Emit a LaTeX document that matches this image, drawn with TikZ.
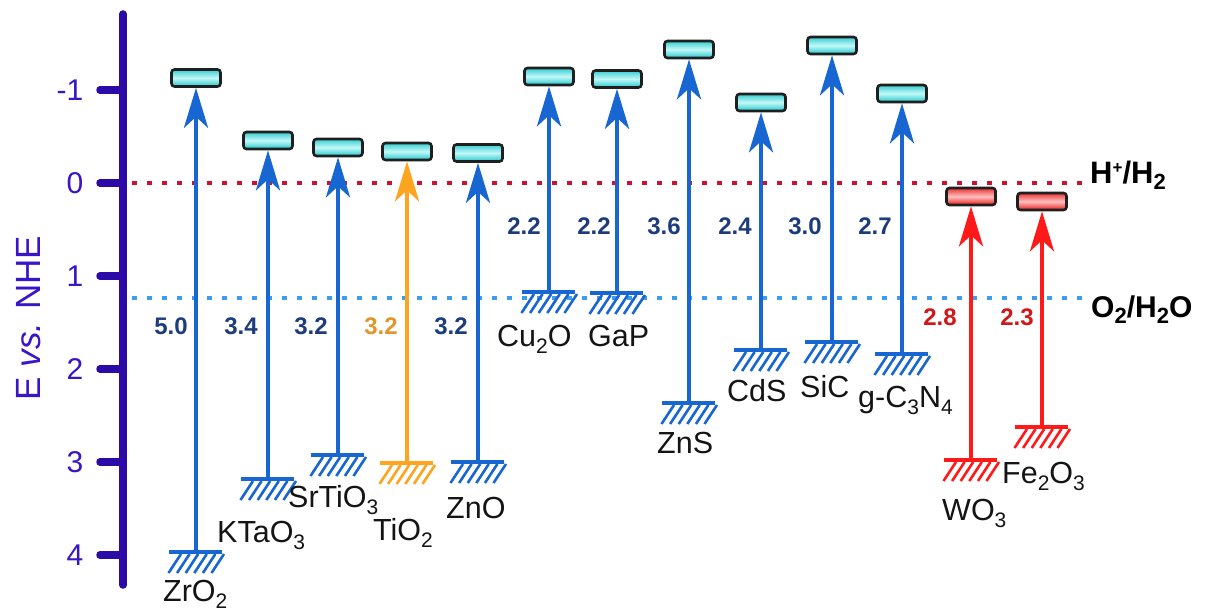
\documentclass[tikz,border=0pt]{standalone}
\usepackage{fontspec}
\setmainfont{Liberation Sans}
\usetikzlibrary{arrows.meta,calc}
\definecolor{axiscol}{HTML}{2C0AA8}
\definecolor{ticktext}{HTML}{3A14C8}
\definecolor{barblue}{HTML}{1766D2}
\definecolor{barorange}{HTML}{FFA41F}
\definecolor{barred}{HTML}{FF1A1A}
\definecolor{gapblue}{HTML}{1C3C7C}
\definecolor{gapred}{HTML}{D01818}
\definecolor{gaporange}{HTML}{E0962A}
\definecolor{hdot}{HTML}{CC1133}
\definecolor{odot}{HTML}{3C9CF0}
\definecolor{cyedge}{HTML}{1EC8CC}
\definecolor{cymid}{HTML}{C4F8F8}
\definecolor{rdedge}{HTML}{E81C1C}
\definecolor{rdmid}{HTML}{FFC0C0}
\newcommand\sub[1]{\raisebox{-7pt}{\fontsize{21}{21}\selectfont #1}}
\newcommand\subb[1]{\raisebox{-6pt}{\fontsize{22}{22}\selectfont\bfseries #1}}
\tikzset{
  matlabel/.style={font=\fontsize{30.5}{32}\selectfont, text=black!92, inner sep=0pt, anchor=base west},
  ticklabel/.style={font=\fontsize{30}{30}\selectfont, text=ticktext, inner sep=0pt, anchor=east},
  gaplabel/.style={font=\fontsize{24}{24}\selectfont\bfseries, inner sep=0pt},
  cbbox/.style={draw=black!88, line width=2.6pt, rounded corners=3pt, minimum width=49pt, minimum height=17pt, inner sep=0pt},
  cbcyan/.style={cbbox, top color=cyedge!90, bottom color=cyedge, middle color=cymid},
  cbred/.style={cbbox, top color=rdedge!90, bottom color=rdedge, middle color=rdmid},
  bandarrow/.style={line width=4.5pt, -{Stealth[length=40pt,width=24pt,inset=11pt]}},
  hatchbar/.style={line width=4pt},
  hatchslash/.style={line width=2.6pt},
  refline/.style={line width=4.5pt, dash pattern=on 4.5pt off 10.5pt},
  axisline/.style={axiscol, line width=7.5pt, line cap=round},
}
% #1 id, #2 x, #3 CB box y, #4 VB y, #5 colour, #6 box style, #7 text, #8 label x, #9 label baseline y
\newcommand\semic[9]{%
  \node[#6] (#1cb) at (#2,#3) {};
  \coordinate (#1vb) at (#2,#4);
  \draw[hatchbar,#5] ($(#1vb)+(-27,0)$) coordinate (#1hl) -- ($(#1vb)+(26,0)$) coordinate (#1hr);
  \foreach \i in {0,...,5}{\draw[hatchslash,#5] ($(#1vb)+(-27.5+8.6*\i,21)$) -- ++(12.5,-19);}
  \draw[bandarrow,#5] (#1vb) -- (#1cb.south);
  \node[matlabel] (#1lbl) at (#8,#9) {#7};
}
\begin{document}
\begin{tikzpicture}[x=1pt,y=-1pt]
\useasboundingbox (0,0) rectangle (1205,612);
% axis
\coordinate (axtop) at (123,14);
\coordinate (axbot) at (123,585);
\draw[axisline] (axtop) -- (axbot);
\foreach \v/\yy/\nm in {-1/90/m1,0/183/z0,1/276/p1,2/369/p2,3/462/p3,4/555/p4}{
  \coordinate (tk\nm) at (123,\yy);
  \draw[axisline] (tk\nm) -- ++(-23,0) coordinate (tke\nm);
  \node[ticklabel] (tl\nm) at (83.5,\yy) {\v};
}
\node[rotate=90, anchor=base, font=\fontsize{35}{35}\selectfont, text=ticktext, inner sep=0pt] (ylab) at (40,318) {E \textit{vs.} NHE};
% reference levels
\coordinate (hs) at (132,183); \coordinate (he) at (1086,183);
\coordinate (os) at (132,298); \coordinate (oe) at (1086,298);
\draw[refline, hdot] (hs) -- (he);
\draw[refline, odot] (os) -- (oe);
\node[anchor=base west, inner sep=0pt, font=\fontsize{31}{31}\selectfont\bfseries] (hlab) at (1090,184) {H\raisebox{10pt}{\fontsize{17}{17}\selectfont\bfseries +}/H\subb{2}};
\node[anchor=base west, inner sep=0pt, font=\fontsize{30}{30}\selectfont\bfseries] (olab) at (1091,318) {O\subb{2}/H\subb{2}O};
% semiconductors
\semic{zro}{196}{78}{552}{barblue}{cbcyan}{ZrO\sub{2}}{163}{601}
\semic{kta}{268}{140.5}{479}{barblue}{cbcyan}{KTaO\sub{3}}{217}{542}
\semic{sto}{338}{147.5}{455}{barblue}{cbcyan}{SrTiO\sub{3}}{288}{507}
\semic{tio}{407}{151.5}{463}{barorange}{cbcyan}{TiO\sub{2}}{373}{540}
\semic{zno}{478}{153}{462}{barblue}{cbcyan}{ZnO}{446}{518}
\semic{cuo}{549}{76.5}{292}{barblue}{cbcyan}{Cu\sub{2}O}{497}{347}
\semic{gap}{617}{79}{293}{barblue}{cbcyan}{GaP}{588}{347}
\semic{zns}{689}{49.5}{403}{barblue}{cbcyan}{ZnS}{657}{453}
\semic{cds}{761}{102.5}{350}{barblue}{cbcyan}{CdS}{727}{401}
\semic{sic}{832}{45.5}{342}{barblue}{cbcyan}{SiC}{800}{397}
\semic{gcn}{902}{93.5}{354}{barblue}{cbcyan}{g-C\sub{3}N\sub{4}}{858}{407}
\semic{wo}{971}{196.5}{460}{barred}{cbred}{WO\sub{3}}{942}{520}
\semic{feo}{1042}{201.5}{427}{barred}{cbred}{Fe\sub{2}O\sub{3}}{1002}{483}
% band gaps
\node[gaplabel, text=gapblue] (gzro) at (171,326) {5.0};
\node[gaplabel, text=gapblue] (gkta) at (241,326) {3.4};
\node[gaplabel, text=gapblue] (gsto) at (311,326) {3.2};
\node[gaplabel, text=gaporange] (gtio) at (381,326) {3.2};
\node[gaplabel, text=gapblue] (gzno) at (451,326) {3.2};
\node[gaplabel, text=gapblue] (gcuo) at (524,226) {2.2};
\node[gaplabel, text=gapblue] (ggap) at (594,226) {2.2};
\node[gaplabel, text=gapblue] (gzns) at (664,226) {3.6};
\node[gaplabel, text=gapblue] (gcds) at (735,226) {2.4};
\node[gaplabel, text=gapblue] (gsic) at (805,226) {3.0};
\node[gaplabel, text=gapblue] (ggcn) at (875,226) {2.7};
\node[gaplabel, text=gapred] (gwo) at (940,317) {2.8};
\node[gaplabel, text=gapred] (gfeo) at (1017,317) {2.3};
\end{tikzpicture}
\end{document}
